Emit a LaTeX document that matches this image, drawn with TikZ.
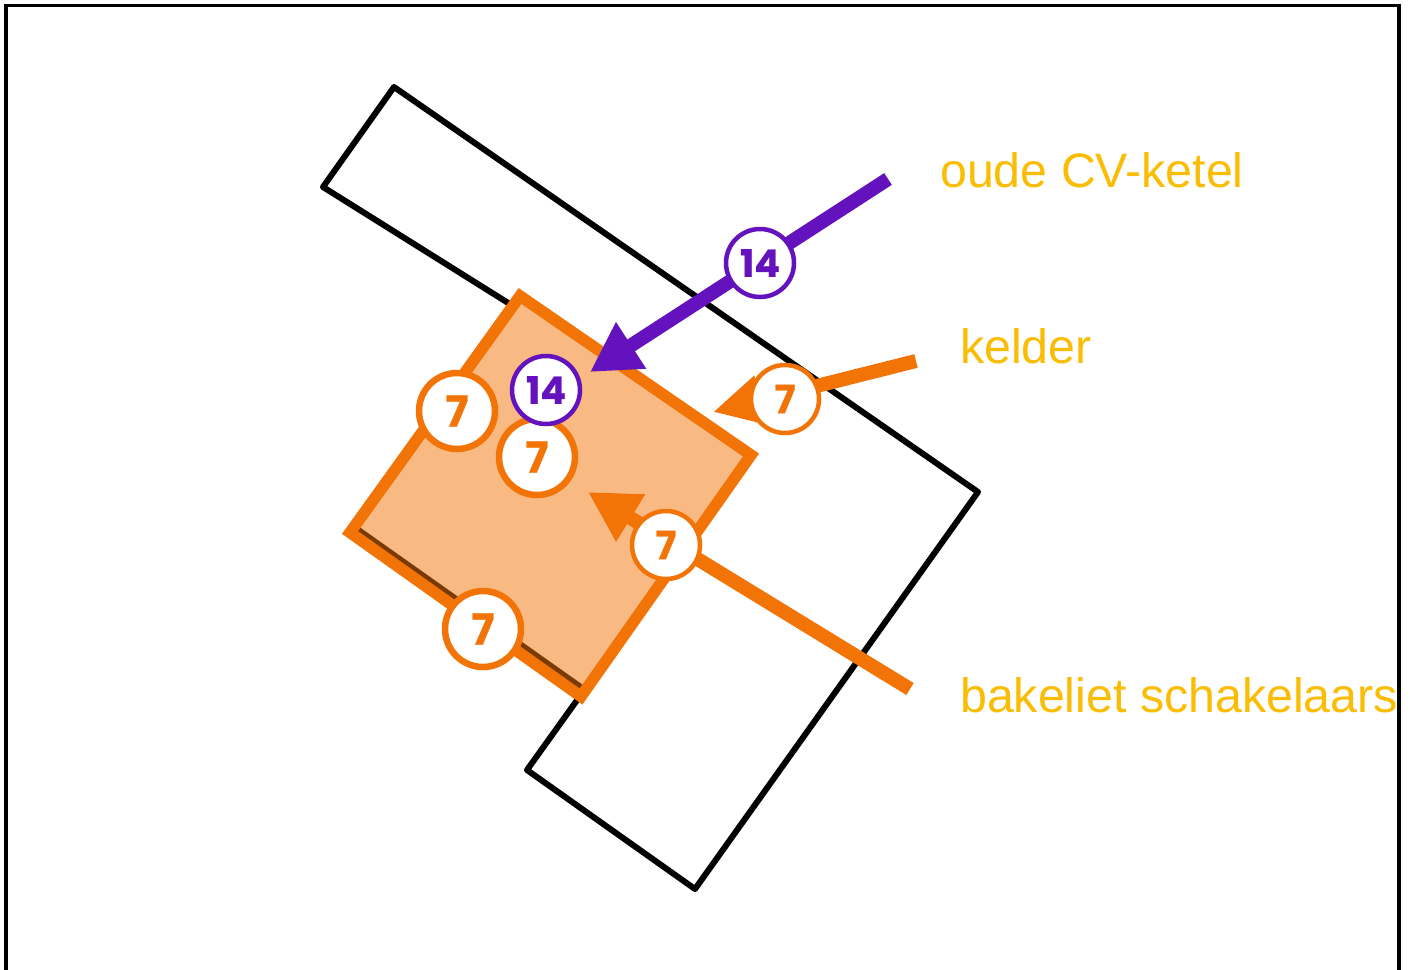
\documentclass[tikz,border=0pt]{standalone}
\usepackage{fontspec}
\setmainfont{Liberation Sans}
\newfontfamily\badgefont{Poppins}[BoldFeatures={FakeBold=0.6}]
\usetikzlibrary{arrows.meta}
\definecolor{vOrange}{HTML}{F37406}
\definecolor{vPurple}{HTML}{6412BD}
\definecolor{vYellow}{HTML}{FBBC04}
\tikzset{
  x=1pt,y=-1pt,
  outline/.style={draw=black,line width=6pt,line join=round},
  zone/.style={draw=vOrange,line width=11.5pt,fill=vOrange,fill opacity=0.5,draw opacity=1,line join=miter},
  leaderP/.style={draw=vPurple,line width=14pt,-{Triangle[length=49pt,width=52pt,fill=vPurple]}},
  leaderO/.style={draw=vOrange,line width=14pt,-{Triangle[length=50pt,width=52pt,fill=vOrange]}},
  leaderK/.style={draw=vOrange,line width=14pt,-{Triangle[length=49pt,width=47pt,fill=vOrange]}},
  badgeP/.style={circle,draw=vPurple,fill=white,line width=4.5pt,minimum size=68pt,inner sep=0pt,text=vPurple,font=\badgefont\bfseries\fontsize{38}{38}\selectfont},
  badgeO/.style={circle,draw=vOrange,fill=white,line width=4.5pt,minimum size=68pt,inner sep=0pt,text=vOrange,font=\badgefont\bfseries\fontsize{39}{39}\selectfont},
  badgeL/.style={badgeO,line width=6.5pt,minimum size=76pt,font=\badgefont\bfseries\fontsize{43}{43}\selectfont},
  caption/.style={anchor=base west,inner sep=0pt,text=vYellow,font=\fontsize{48.3}{48.3}\selectfont}
}
\begin{document}
\begin{tikzpicture}
\useasboundingbox (0,0) rectangle (1410,969);
\fill[white] (0,0) rectangle (1410,969);
\draw[black,line width=3.5pt] (6,980) -- (6,5.5) -- (1399,5.5) -- (1399,980);
\draw[outline] (394,87) -- (978,492) -- (695,889) -- (527,770) -- (584.5,689.7) -- (354.5,527.2) -- (513,306) -- (323,187) -- cycle;
\draw[zone] (520,296) -- (751,455) -- (581,696.5) -- (350,532.5) -- cycle;

\coordinate (p1) at (888,179);
\coordinate (p2) at (590,372);
\coordinate (k1) at (916,361);
\coordinate (k2) at (713,412);
\coordinate (b1) at (910,689);
\coordinate (b2) at (588,492);
\draw[leaderP] (p1) -- (p2);
\draw[leaderK] (k1) -- (k2);
\draw[leaderO] (b1) -- (b2);

\node[badgeL] (n1) at (457,411) {7};
\node[badgeL] (n2) at (537,457) {7};
\node[badgeP] (n3) at (546,390) {14};
\node[badgeP] (n4) at (760,263) {14};
\node[badgeO] (n5) at (785,399) {7};
\node[badgeO] (n6) at (666,545) {7};
\node[badgeL] (n7) at (483,629) {7};

\node[caption] (t1) at (940,187) {oude CV-ketel};
\node[caption] (t2) at (960,363) {kelder};
\node[caption] (t3) at (960,712) {bakeliet schakelaars};
\end{tikzpicture}
\end{document}
